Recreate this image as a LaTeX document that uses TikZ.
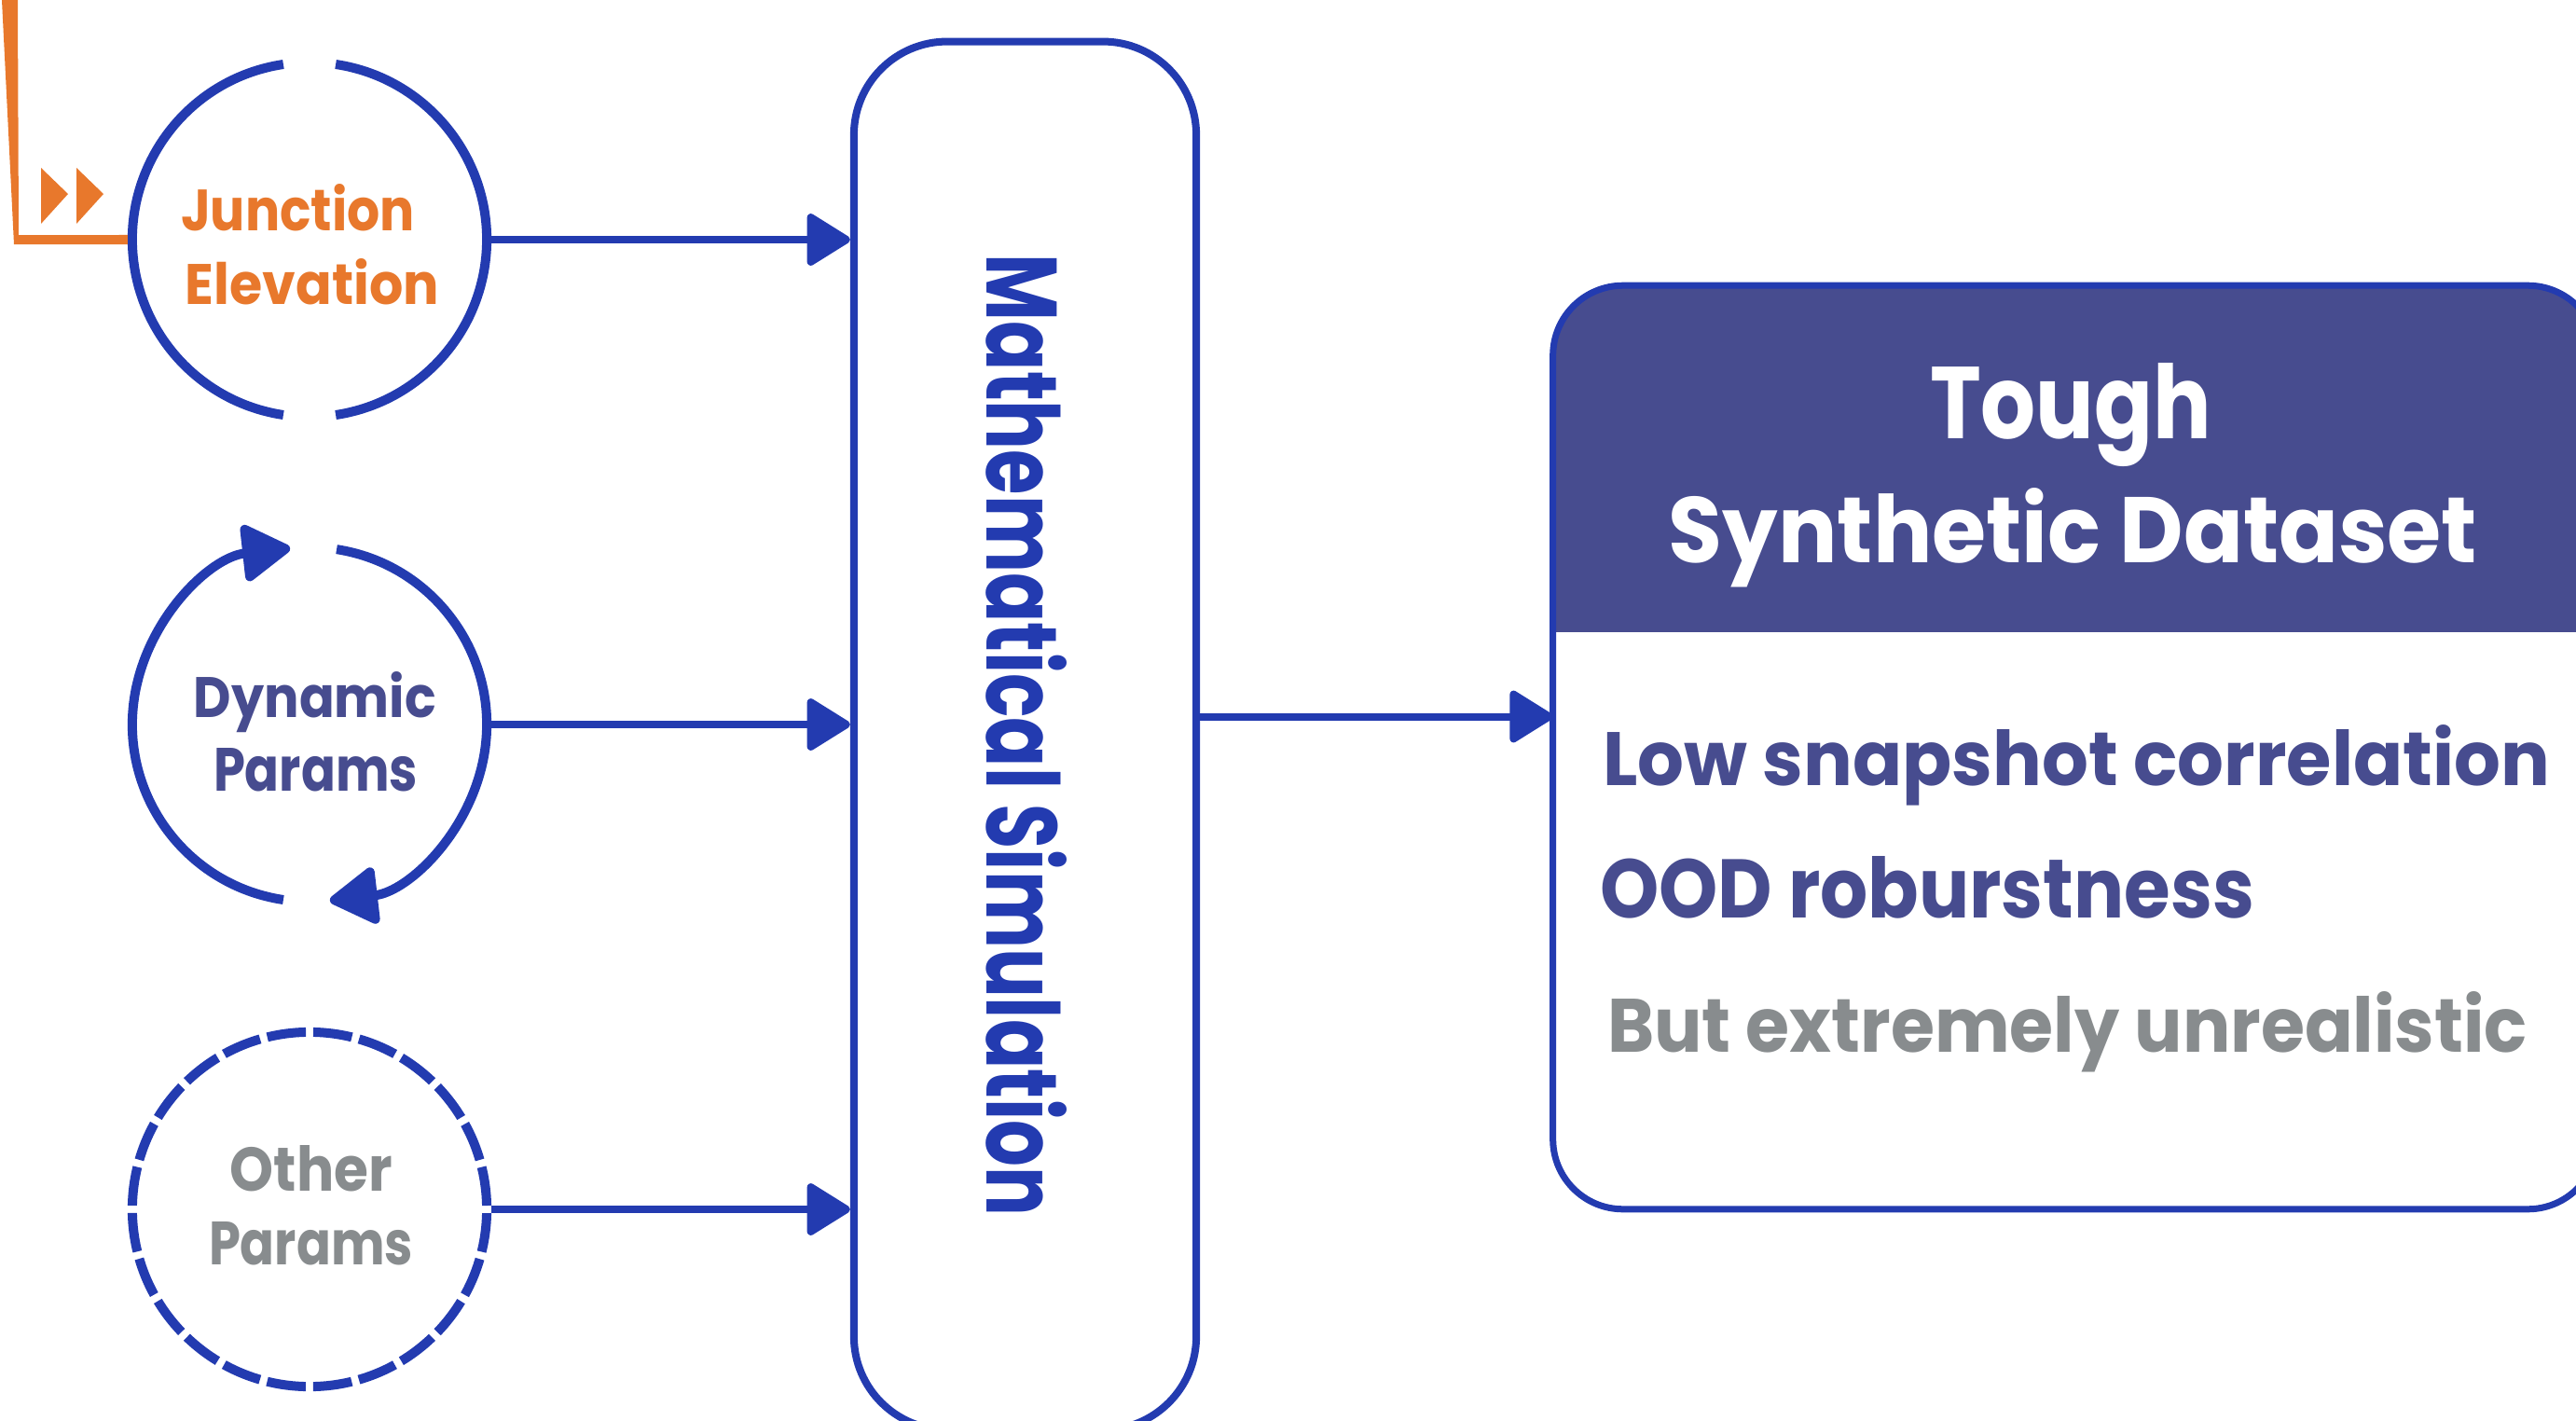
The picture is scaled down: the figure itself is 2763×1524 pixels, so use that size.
\documentclass[tikz,border=0pt]{standalone}
\usepackage{fontspec}
\setmainfont{Poppins}
\usepackage{graphicx}
\usetikzlibrary{arrows.meta}

\definecolor{lineblue}{RGB}{35,59,176}
\definecolor{slate}{RGB}{71,76,143}
\definecolor{jorange}{RGB}{232,120,44}
\definecolor{softgray}{RGB}{136,140,142}

% one drawing unit = 0.01cm
\newdimen\pxu \pxu=0.01cm
\newcommand\fitbox[3]{\resizebox{#1\pxu}{#2\pxu}{#3}}

\begin{document}
\begin{tikzpicture}[x=0.01cm, y=0.01cm,
  ring/.style={circle, minimum size=3.8cm, inner sep=0pt, outer sep=0.05cm},
  ringline/.style={draw=lineblue, line width=0.1cm},
  cyc/.style={draw=lineblue, line width=0.1cm, -{Triangle[length=0.56cm, width=0.66cm, round]}},
  feed/.style={draw=lineblue, line width=0.08cm, -{Triangle[length=0.5cm, width=0.6cm, round]}},
  simbox/.style={draw=lineblue, line width=0.08cm, rounded corners=1cm,
    minimum width=3.67cm, minimum height=14.88cm, inner sep=0pt},
  lbl/.style={inner sep=0pt, outer sep=0pt, font=\bfseries},
]
\path[use as bounding box] (0,0) rectangle (2763,-1524);
\clip (0,0) rectangle (2763,-1524);
\fill[white] (0,0) rectangle (2763,-1524);

% parameter rings
\node[ring] (c1) at (332,-257) {};
\node[ring] (c2) at (332,-777) {};
\node[ring, ringline, dash pattern=on 0.4174cm off 0.08cm, dash phase=0.4574cm] (c3) at (332,-1297) {};

\draw[ringline] (c1.center) ++(81.5:1.9cm) arc[start angle=81.5, end angle=-81.5, radius=1.9cm];
\draw[ringline] (c1.center) ++(98.5:1.9cm) arc[start angle=98.5, end angle=261.5, radius=1.9cm];

\draw[cyc] (c2.center) ++(261.5:1.9cm) arc[start angle=261.5, end angle=96.3, radius=1.9cm];
\draw[cyc] (c2.center) ++(81.2:1.9cm) arc[start angle=81.2, end angle=-83.4, radius=1.9cm];

% incoming feed on the first ring
\coordinate (feedtop) at (10,0);
\fill[jorange] (2,0) -- (19,0) -- (20,-252) -- ([yshift=0.05cm]c1.west)
  -- ([yshift=-0.05cm]c1.west) -- (15,-262) -- cycle;
\fill[jorange] (44,-180) -- (73,-208) -- (44,-240) -- cycle;
\fill[jorange] (82,-180) -- (111,-208) -- (82,-240) -- cycle;

% ring labels
\node[lbl, text=jorange, anchor=base] (t1a) at (319.5,-247) {\fitbox{251}{50}{Junction}};
\node[lbl, text=jorange, anchor=base] (t1b) at (335,-326) {\fitbox{272}{49}{Elevation}};
\node[lbl, text=slate, anchor=base] (t2a) at (338,-769) {\fitbox{260}{49}{Dynamic}};
\node[lbl, text=slate, anchor=base] (t2b) at (338.5,-848) {\fitbox{219}{46}{Params}};
\node[lbl, text=softgray, anchor=base] (t3a) at (334,-1277) {\fitbox{174}{49}{Other}};
\node[lbl, text=softgray, anchor=base] (t3b) at (333.5,-1356) {\fitbox{219}{46}{Params}};

% simulation block
\node[simbox] (sim) at (1099.5,-789) {};
\node[lbl, rotate=-90, anchor=base, text=lineblue] (simlabel) at (1058,-788.5)
  {\fitbox{1031}{86}{Mathematical Simulation}};

\draw[feed] (c1.east) -- (c1.east -| sim.west);
\draw[feed] (c2.east) -- (c2.east -| sim.west);
\draw[feed] (c3.east) -- (c3.east -| sim.west);

% dataset card
\node[inner sep=0pt, outer sep=0pt, minimum width=11.2cm, minimum height=9.9cm] (ds) at (2226,-801.5) {};
\coordinate (hdrb) at (0,-678);
\coordinate (outy) at (0,-768.5);
\begin{scope}
  \clip[rounded corners=0.75cm] (ds.south west) rectangle (ds.north east);
  \fill[slate] (ds.north west) rectangle (ds.east |- hdrb);
\end{scope}
\draw[draw=lineblue, line width=0.07cm, rounded corners=0.75cm] (ds.south west) rectangle (ds.north east);

\draw[feed] (sim.east |- outy) -- (ds.west |- outy);

\node[lbl, text=white, anchor=base] (h1) at (2221,-470) {\fitbox{302}{81}{Tough}};
\node[lbl, text=white, anchor=base] (h2) at (2223.5,-603) {\fitbox{867}{80}{Synthetic Dataset}};

\node[lbl, text=slate, anchor=base west] (b1) at (1719,-842) {\fitbox{1016}{65}{Low snapshot correlation}};
\node[lbl, text=slate, anchor=base west] (b2) at (1716,-984) {\fitbox{702}{66}{OOD roburstness}};
\node[lbl, text=softgray, anchor=base west] (b3) at (1724,-1128) {\fitbox{987}{65}{But extremely unrealistic}};
\end{tikzpicture}
\end{document}
